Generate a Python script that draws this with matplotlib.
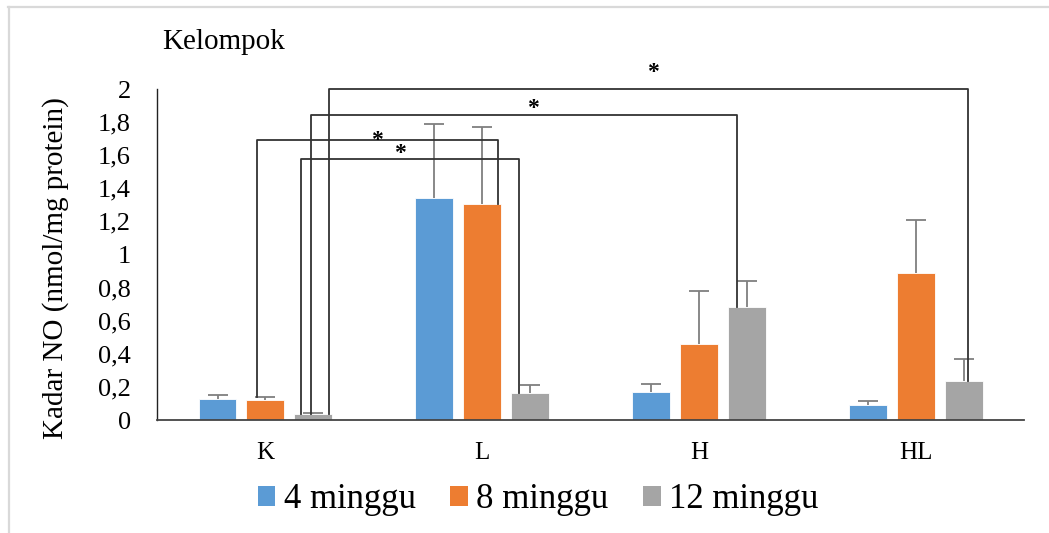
import matplotlib
matplotlib.use('Agg')
import matplotlib.pyplot as plt
from matplotlib.lines import Line2D
from matplotlib.patches import Patch
import numpy as np

plt.rcParams['font.family'] = ['Liberation Serif', 'DejaVu Serif']

# data
groups = ['K', 'L', 'H', 'HL']
series = ['4 minggu', '8 minggu', '12 minggu']
colors = ['#5B9BD5', '#ED7D31', '#A5A5A5']
means = [
    [0.127, 1.343, 0.167, 0.093],   # 4 minggu
    [0.120, 1.307, 0.461, 0.888],   # 8 minggu
    [0.036, 0.161, 0.685, 0.238],   # 12 minggu
]
err = [
    [0.026, 0.444, 0.049, 0.024],
    [0.020, 0.463, 0.320, 0.319],
    [0.004, 0.049, 0.157, 0.133],
]

# significance brackets: (group, series) at each end, height, star x, star y
brackets = [
    ((0, 2), (3, 2), 2.00, 1.79, 2.10),
    ((0, 2), (2, 2), 1.843, 1.235, 1.885),
    ((0, 1), (1, 1), 1.692, 0.515, 1.686),
    ((0, 2), (1, 2), 1.577, 0.62, 1.61),
]
leg_shift = [(0.073, 0.02), (-0.01, -0.045), (-0.04, 0.073), (-0.057, -0.05)]

fig = plt.figure(figsize=(10.49, 5.33), dpi=100)
ax = fig.add_axes([0.1497, 0.212, 0.8265, 0.621])

x = np.arange(len(groups))
width = 0.175
step = 0.221
offsets = [-step, 0, step]

for i in range(3):
    xs = x + offsets[i]
    tops = np.array(means[i]) + np.array(err[i])
    ax.bar(xs, means[i], width, color=colors[i], edgecolor='white',
           linewidth=0.6, zorder=2)
    # upper error bar only
    ax.vlines(xs, means[i], tops, color='#7f7f7f', lw=1.3, zorder=3)
    ax.plot(xs, tops, ls='none', marker='_', ms=14, mew=1.3, color='#7f7f7f', zorder=3)

# brackets
for (l, r, h, sx, sy), (dl, dr) in zip(brackets, leg_shift):
    xl = x[l[0]] + offsets[l[1]] + dl
    xr = x[r[0]] + offsets[r[1]] + dr
    yl = means[l[1]][l[0]]
    if l == (0, 1):
        yl = means[1][0] + err[1][0]
    yr = means[r[1]][r[0]]
    ax.plot([xl, xl, xr, xr], [yl, h, h, yr], color='#333333', lw=1.3,
            clip_on=False, zorder=4)
    ax.text(sx, sy, '*', ha='center', va='center', fontsize=17,
            fontweight='bold', clip_on=False, zorder=5)

ax.set_xlim(-0.5, 3.5)
ax.set_ylim(0, 2)
ticks = np.arange(0, 2.01, 0.2)
ax.set_yticks(ticks)
ax.set_yticklabels([('%g' % round(v, 1)).replace('.', ',') for v in ticks], fontsize=19)
ax.set_xticks(x)
ax.set_xticklabels(groups, fontsize=18)
ax.tick_params(axis='y', length=0, pad=19)
ax.tick_params(axis='x', length=0, pad=16)
for s in ['top', 'right']:
    ax.spines[s].set_visible(False)
ax.spines['left'].set_color('#222222')
ax.spines['bottom'].set_color('#444444')
ax.spines['left'].set_linewidth(1.0)
ax.spines['bottom'].set_linewidth(1.3)

ax.set_ylabel('Kadar NO (nmol/mg protein)', fontsize=21)
ax.yaxis.set_label_coords(-0.101, 0.46)

fig.text(0.155, 0.921, 'Kelompok', fontsize=21, ha='left', va='center')

handles = [Patch(facecolor=c, edgecolor='none') for c in colors]
fig.legend(handles, series, loc='center', bbox_to_anchor=(0.513, 0.062), ncol=3,
           frameon=False, fontsize=25, handlelength=0.5, handleheight=0.5,
           handletextpad=0.25, columnspacing=1.0)

# light frame lines at top and left of the picture
fig.add_artist(Line2D([8 / 1049, 1], [1 - 6.5 / 533, 1 - 6.5 / 533],
                      transform=fig.transFigure, color='#d9d9d9', lw=1.6))
fig.add_artist(Line2D([9 / 1049, 9 / 1049], [0, 1 - 6.5 / 533],
                      transform=fig.transFigure, color='#d9d9d9', lw=1.6))

fig.savefig('out.png', dpi=100)
